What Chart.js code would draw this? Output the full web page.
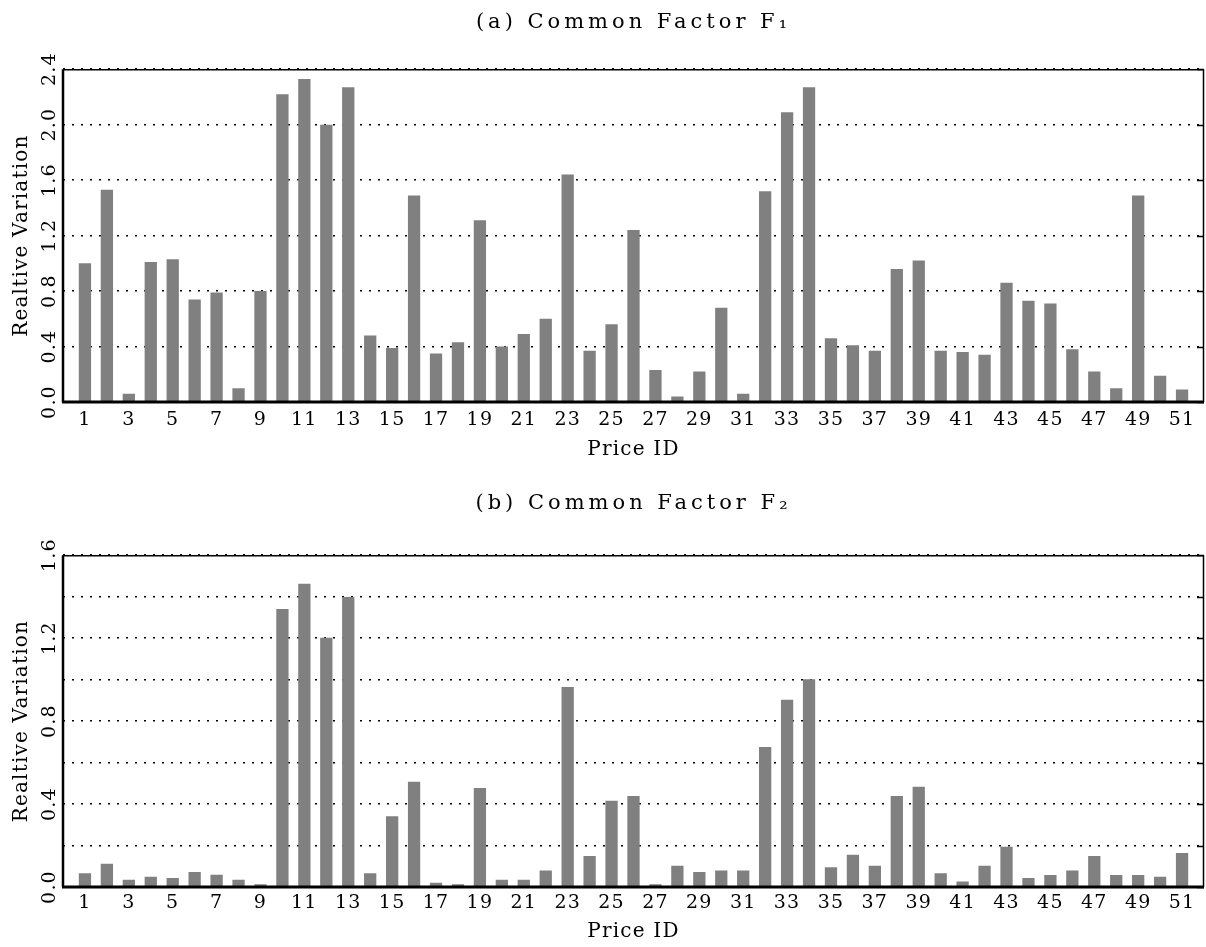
<!DOCTYPE html>
<html>
<head>
<meta charset="utf-8">
<script src="https://cdn.jsdelivr.net/npm/chart.js@4/dist/chart.umd.min.js"></script>
<style>
  body { margin: 0; background: #fff; }
  canvas { display: block; }
</style>
</head>
<body>
<canvas id="chartF1" width="1206" height="484"></canvas>
<canvas id="chartF2" width="1206" height="463"></canvas>
<script>
// price ids on the x axis
const priceIds = [
  1, 2, 3, 4, 5, 6, 7, 8, 9, 10, 11, 12, 13, 14, 15, 16, 17, 18, 19, 20,
  21, 22, 23, 24, 25, 26, 27, 28, 29, 30, 31, 32, 33, 34, 35, 36, 37, 38, 39, 40,
  41, 42, 43, 44, 45, 46, 47, 48, 49, 50, 51
];
const xTickLabels = [1, 3, 5, 7, 9, 11, 13, 15, 17, 19, 21, 23, 25, 27, 29, 31, 33, 35, 37, 39, 41, 43, 45, 47, 49, 51];

// relative variation, common factor F1
const f1Values = [
  1.00, 1.53, 0.06, 1.01, 1.03, 0.74, 0.79, 0.10, 0.80, 2.22,
  2.33, 2.00, 2.27, 0.48, 0.39, 1.49, 0.35, 0.43, 1.31, 0.40,
  0.49, 0.60, 1.64, 0.37, 0.56, 1.24, 0.23, 0.04, 0.22, 0.68,
  0.06, 1.52, 2.09, 2.27, 0.46, 0.41, 0.37, 0.96, 1.02, 0.37,
  0.36, 0.34, 0.86, 0.73, 0.71, 0.38, 0.22, 0.10, 1.49, 0.19,
  0.09
];

// relative variation, common factor F2
const f2Values = [
  0.066, 0.112, 0.035, 0.050, 0.043, 0.072, 0.059, 0.035, 0.013, 1.340,
  1.462, 1.202, 1.399, 0.066, 0.341, 0.508, 0.021, 0.013, 0.477, 0.035,
  0.035, 0.080, 0.965, 0.149, 0.416, 0.439, 0.013, 0.103, 0.072, 0.080,
  0.080, 0.675, 0.903, 1.002, 0.095, 0.156, 0.103, 0.439, 0.484, 0.066,
  0.027, 0.103, 0.194, 0.043, 0.058, 0.080, 0.149, 0.058, 0.058, 0.050,
  0.164
];

const yTicksF1 = [0.0, 0.4, 0.8, 1.2, 1.6, 2.0, 2.4];
const yTicksF2 = [0.0, 0.2, 0.4, 0.6, 0.8, 1.0, 1.2, 1.4, 1.6];
const yLabelsF2 = [0.0, 0.4, 0.8, 1.2, 1.6];

const FONT = "'DejaVu Serif', serif";

// wider letter spacing like the original plot, title spaced more
const spacingPlugin = {
  id: "spacing",
  afterInit(chart) {
    const block = chart.titleBlock;
    if (!block) return;
    const draw = block.draw.bind(block);
    block.draw = function (area) {
      chart.ctx.save();
      chart.ctx.letterSpacing = "4px";
      draw(area);
      chart.ctx.restore();
    };
  },
  beforeDraw(chart) {
    chart.ctx.letterSpacing = "1.2px";
  }
};

// box around the plot plus small inward ticks on the right edge
const framePlugin = {
  id: "frame",
  afterDatasetsDraw(chart) {
    const { ctx, chartArea: a, scales } = chart;
    const y = scales.y;
    const line = (x1, y1, x2, y2, w) => {
      ctx.lineWidth = w;
      ctx.beginPath();
      ctx.moveTo(x1, y1);
      ctx.lineTo(x2, y2);
      ctx.stroke();
    };
    ctx.save();
    ctx.strokeStyle = "#000";
    y.ticks.forEach((t) => {
      const py = Math.round(y.getPixelForValue(t.value)) + 0.5;
      line(a.right - 7, py, a.right, py, 1.5);
    });
    line(a.left, a.top + 0.5, a.right, a.top + 0.5, 1.5);
    line(a.right - 0.5, a.top, a.right - 0.5, a.bottom, 1.5);
    line(a.left, a.top, a.left, a.bottom, 2.5);
    line(a.left - 1, a.bottom, a.right, a.bottom, 3);
    ctx.restore();
  }
};

function makeChart(id, title, values, yTicks, yLabels, yMax, layout) {
  const ctx = document.getElementById(id).getContext("2d");
  return new Chart(ctx, {
    type: "bar",
    data: {
      labels: priceIds,
      datasets: [
        {
          data: values,
          backgroundColor: "#808080",
          borderWidth: 0,
          barPercentage: 0.56,
          categoryPercentage: 1.0
        }
      ]
    },
    options: {
      responsive: false,
      animation: false,
      layout: { padding: { left: 0, right: 2, top: 0, bottom: 0 } },
      plugins: {
        legend: { display: false },
        tooltip: { enabled: false },
        title: {
          display: true,
          text: title,
          fullSize: false,
          color: "#000",
          font: { family: FONT, size: 21, weight: "normal" },
          padding: { top: layout.titleTop, bottom: layout.titleBottom }
        }
      },
      scales: {
        x: {
          type: "linear",
          min: 0,
          max: 52,
          offset: false,
          afterBuildTicks: (scale) => {
            scale.ticks = xTickLabels.map((v) => ({ value: v }));
          },
          afterFit: (scale) => {
            scale.height = layout.xHeight;
          },
          grid: { display: false, drawTicks: false },
          border: { display: false },
          ticks: {
            color: "#000",
            font: { family: FONT, size: 19 },
            padding: layout.xTickPad,
            maxRotation: 0,
            autoSkip: false,
            callback: (v) => String(v)
          },
          title: {
            display: true,
            text: "Price ID",
            color: "#000",
            font: { family: FONT, size: 20 },
            padding: { top: 0, bottom: layout.xTitleBottom }
          }
        },
        y: {
          min: 0,
          max: yMax,
          afterBuildTicks: (scale) => {
            scale.ticks = yTicks.map((v) => ({ value: v }));
          },
          afterFit: (scale) => {
            scale.width = 63;
          },
          grid: {
            color: "#000",
            lineWidth: 1.5,
            drawTicks: false
          },
          border: { display: false, dash: [2, 7] },
          ticks: {
            color: "#000",
            font: { family: FONT, size: 19 },
            padding: -2,
            minRotation: 90,
            maxRotation: 90,
            crossAlign: "center",
            callback: (v) => (yLabels.some((l) => Math.abs(l - v) < 1e-6) ? v.toFixed(1) : "")
          },
          title: {
            display: true,
            text: "Realtive Variation",
            color: "#000",
            font: { family: FONT, size: 20 },
            padding: { top: 10, bottom: 0 }
          }
        }
      }
    },
    plugins: [spacingPlugin, framePlugin]
  });
}

makeChart("chartF1", "(a) Common Factor F\u2081", f1Values, yTicksF1, yTicksF1, 2.4, {
  titleTop: 10, titleBottom: 34, xHeight: 82, xTickPad: 7, xTitleBottom: 22
});
makeChart("chartF2", "(b) Common Factor F\u2082", f2Values, yTicksF2, yLabelsF2, 1.6, {
  titleTop: 7, titleBottom: 39, xHeight: 60, xTickPad: 5, xTitleBottom: 3
});
</script>
</body>
</html>
